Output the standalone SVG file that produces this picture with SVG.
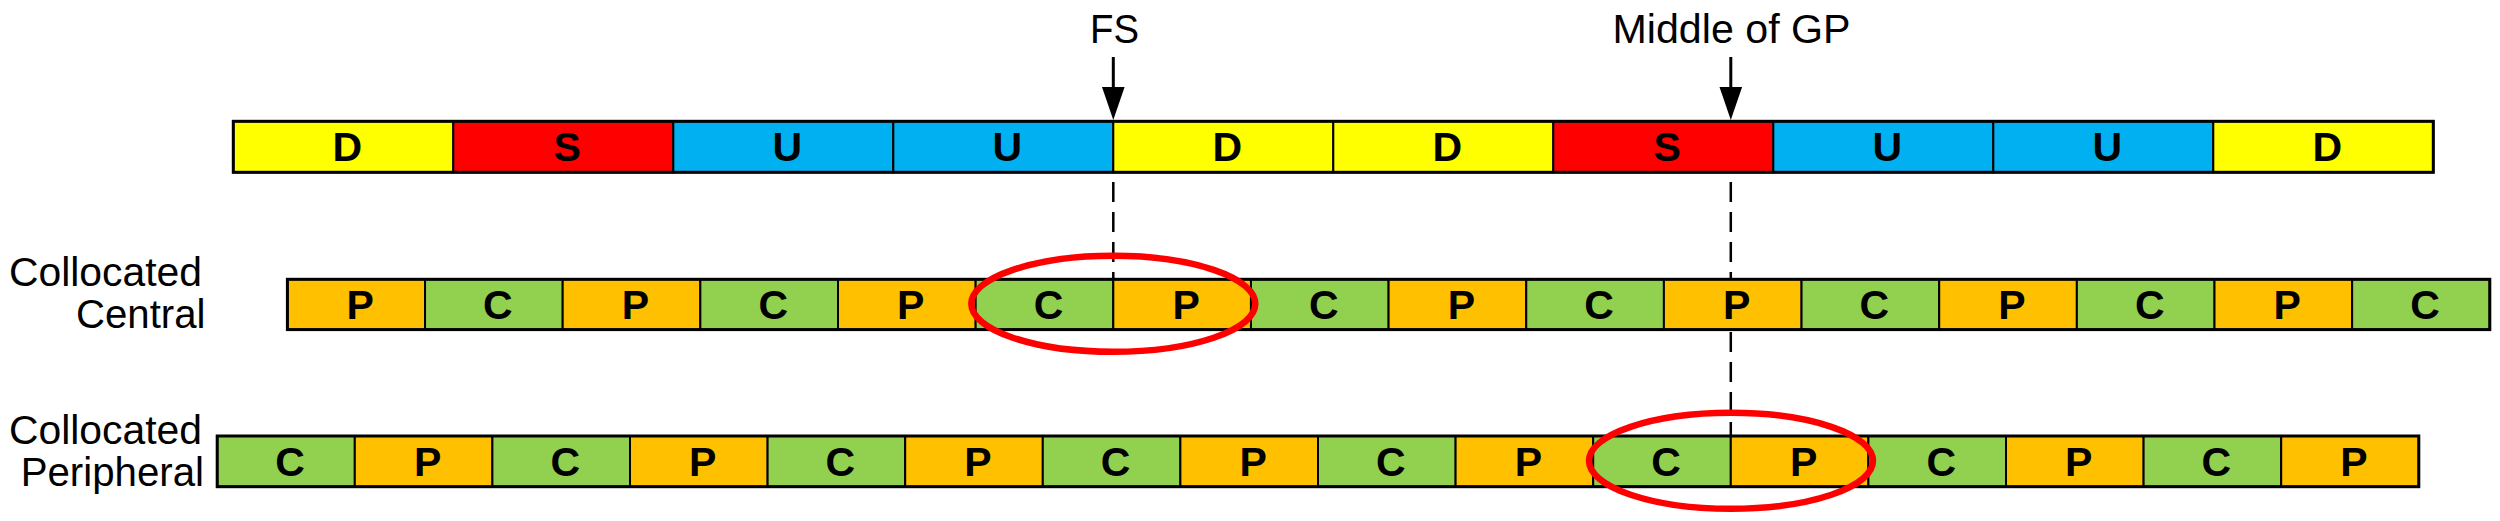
<svg xmlns="http://www.w3.org/2000/svg" width="2500" height="521" viewBox="0 0 2500 521">
<style>
.cell{stroke:#000;stroke-width:2}
.D{fill:#FFFF00}.S{fill:#FF0000}.U{fill:#00B0F0}.P{fill:#FFC000}.C{fill:#92D050}
.frame{fill:none;stroke:#000;stroke-width:3}
.lt{font-family:"Liberation Sans",Arial,sans-serif;font-weight:bold;font-size:41px;text-anchor:middle;fill:#000}
.lab{font-family:"Liberation Sans",Arial,sans-serif;font-size:40px;fill:#000}
.dash{stroke:#000;stroke-width:2.5;stroke-dasharray:20 10;fill:none}
.arr{stroke:#000;stroke-width:3;fill:none}
.ell{fill:none;stroke:#FF0000;stroke-width:6.5}
</style>
<rect width="2500" height="521" fill="#fff"/>
<g id="connectors">
<line class="dash" x1="1113.3" y1="182" x2="1113.3" y2="279"/>
<line class="dash" x1="1730.8" y1="182" x2="1730.8" y2="436"/>
<line class="arr" x1="1113.3" y1="57" x2="1113.3" y2="90"/>
<polygon points="1102,87 1124.6,87 1113.3,120" fill="#000"/>
<line class="arr" x1="1730.8" y1="57" x2="1730.8" y2="90"/>
<polygon points="1719.5,87 1742.1,87 1730.8,120" fill="#000"/>
</g>
<g id="label-fs"><text class="lab" x="1114.5" y="43.3" text-anchor="middle" font-size="41" textLength="49" lengthAdjust="spacingAndGlyphs">FS</text></g>
<g id="label-gp"><text class="lab" x="1731.5" y="43.3" text-anchor="middle" font-size="41" textLength="238" lengthAdjust="spacingAndGlyphs">Middle of GP</text></g>
<g id="label-central"><text class="lab" x="9" y="285.7" textLength="193" lengthAdjust="spacingAndGlyphs">Collocated</text><text class="lab" x="76" y="328.3" textLength="129.5" lengthAdjust="spacingAndGlyphs">Central</text></g>
<g id="label-peripheral"><text class="lab" x="9" y="444" textLength="193" lengthAdjust="spacingAndGlyphs">Collocated</text><text class="lab" x="20.7" y="485.5" textLength="183.3" lengthAdjust="spacingAndGlyphs">Peripheral</text></g>
<g id="row-frame">
<g id="t0"><rect class="cell D" x="233.3" y="121.3" width="220" height="51"/><text class="lt" x="347.3" y="161">D</text></g>
<g id="t1"><rect class="cell S" x="453.3" y="121.3" width="220" height="51"/><text class="lt" x="567.3" y="161">S</text></g>
<g id="t2"><rect class="cell U" x="673.3" y="121.3" width="220" height="51"/><text class="lt" x="787.3" y="161">U</text></g>
<g id="t3"><rect class="cell U" x="893.3" y="121.3" width="220" height="51"/><text class="lt" x="1007.3" y="161">U</text></g>
<g id="t4"><rect class="cell D" x="1113.3" y="121.3" width="220" height="51"/><text class="lt" x="1227.3" y="161">D</text></g>
<g id="t5"><rect class="cell D" x="1333.3" y="121.3" width="220" height="51"/><text class="lt" x="1447.3" y="161">D</text></g>
<g id="t6"><rect class="cell S" x="1553.3" y="121.3" width="220" height="51"/><text class="lt" x="1667.3" y="161">S</text></g>
<g id="t7"><rect class="cell U" x="1773.3" y="121.3" width="220" height="51"/><text class="lt" x="1887.3" y="161">U</text></g>
<g id="t8"><rect class="cell U" x="1993.3" y="121.3" width="220" height="51"/><text class="lt" x="2107.3" y="161">U</text></g>
<g id="t9"><rect class="cell D" x="2213.3" y="121.3" width="220" height="51"/><text class="lt" x="2327.3" y="161">D</text></g>
<rect class="frame" x="233.3" y="121.3" width="2200" height="51"/>
</g>
<g id="row-central">
<g id="c0"><rect class="cell P" x="287.4" y="279.3" width="137.65" height="50.3"/><text class="lt" x="360.2" y="318.5">P</text></g>
<g id="c1"><rect class="cell C" x="425.05" y="279.3" width="137.65" height="50.3"/><text class="lt" x="497.9" y="318.5">C</text></g>
<g id="c2"><rect class="cell P" x="562.7" y="279.3" width="137.65" height="50.3"/><text class="lt" x="635.5" y="318.5">P</text></g>
<g id="c3"><rect class="cell C" x="700.35" y="279.3" width="137.65" height="50.3"/><text class="lt" x="773.2" y="318.5">C</text></g>
<g id="c4"><rect class="cell P" x="838" y="279.3" width="137.65" height="50.3"/><text class="lt" x="910.8" y="318.5">P</text></g>
<g id="c5"><rect class="cell C" x="975.65" y="279.3" width="137.65" height="50.3"/><text class="lt" x="1048.5" y="318.5">C</text></g>
<g id="c6"><rect class="cell P" x="1113.3" y="279.3" width="137.65" height="50.3"/><text class="lt" x="1186.1" y="318.5">P</text></g>
<g id="c7"><rect class="cell C" x="1250.95" y="279.3" width="137.65" height="50.3"/><text class="lt" x="1323.8" y="318.5">C</text></g>
<g id="c8"><rect class="cell P" x="1388.6" y="279.3" width="137.65" height="50.3"/><text class="lt" x="1461.4" y="318.5">P</text></g>
<g id="c9"><rect class="cell C" x="1526.25" y="279.3" width="137.65" height="50.3"/><text class="lt" x="1599.1" y="318.5">C</text></g>
<g id="c10"><rect class="cell P" x="1663.9" y="279.3" width="137.65" height="50.3"/><text class="lt" x="1736.7" y="318.5">P</text></g>
<g id="c11"><rect class="cell C" x="1801.55" y="279.3" width="137.65" height="50.3"/><text class="lt" x="1874.4" y="318.5">C</text></g>
<g id="c12"><rect class="cell P" x="1939.2" y="279.3" width="137.65" height="50.3"/><text class="lt" x="2012" y="318.5">P</text></g>
<g id="c13"><rect class="cell C" x="2076.85" y="279.3" width="137.65" height="50.3"/><text class="lt" x="2149.7" y="318.5">C</text></g>
<g id="c14"><rect class="cell P" x="2214.5" y="279.3" width="137.65" height="50.3"/><text class="lt" x="2287.3" y="318.5">P</text></g>
<g id="c15"><rect class="cell C" x="2352.15" y="279.3" width="137.65" height="50.3"/><text class="lt" x="2425" y="318.5">C</text></g>
<rect class="frame" x="287.4" y="279.3" width="2202.4" height="50.3"/>
</g>
<g id="row-peripheral">
<g id="p0"><rect class="cell C" x="217.2" y="436" width="137.6" height="50.7"/><text class="lt" x="290" y="475.5">C</text></g>
<g id="p1"><rect class="cell P" x="354.8" y="436" width="137.6" height="50.7"/><text class="lt" x="427.6" y="475.5">P</text></g>
<g id="p2"><rect class="cell C" x="492.4" y="436" width="137.6" height="50.7"/><text class="lt" x="565.2" y="475.5">C</text></g>
<g id="p3"><rect class="cell P" x="630" y="436" width="137.6" height="50.7"/><text class="lt" x="702.8" y="475.5">P</text></g>
<g id="p4"><rect class="cell C" x="767.6" y="436" width="137.6" height="50.7"/><text class="lt" x="840.4" y="475.5">C</text></g>
<g id="p5"><rect class="cell P" x="905.2" y="436" width="137.6" height="50.7"/><text class="lt" x="978" y="475.5">P</text></g>
<g id="p6"><rect class="cell C" x="1042.8" y="436" width="137.6" height="50.7"/><text class="lt" x="1115.6" y="475.5">C</text></g>
<g id="p7"><rect class="cell P" x="1180.4" y="436" width="137.6" height="50.7"/><text class="lt" x="1253.2" y="475.5">P</text></g>
<g id="p8"><rect class="cell C" x="1318" y="436" width="137.6" height="50.7"/><text class="lt" x="1390.8" y="475.5">C</text></g>
<g id="p9"><rect class="cell P" x="1455.6" y="436" width="137.6" height="50.7"/><text class="lt" x="1528.4" y="475.5">P</text></g>
<g id="p10"><rect class="cell C" x="1593.2" y="436" width="137.6" height="50.7"/><text class="lt" x="1666" y="475.5">C</text></g>
<g id="p11"><rect class="cell P" x="1730.8" y="436" width="137.6" height="50.7"/><text class="lt" x="1803.6" y="475.5">P</text></g>
<g id="p12"><rect class="cell C" x="1868.4" y="436" width="137.6" height="50.7"/><text class="lt" x="1941.2" y="475.5">C</text></g>
<g id="p13"><rect class="cell P" x="2006" y="436" width="137.6" height="50.7"/><text class="lt" x="2078.8" y="475.5">P</text></g>
<g id="p14"><rect class="cell C" x="2143.6" y="436" width="137.6" height="50.7"/><text class="lt" x="2216.4" y="475.5">C</text></g>
<g id="p15"><rect class="cell P" x="2281.2" y="436" width="137.6" height="50.7"/><text class="lt" x="2354" y="475.5">P</text></g>
<rect class="frame" x="217.2" y="436" width="2201.6" height="50.7"/>
</g>
<g id="highlight-fs"><ellipse class="ell" cx="1113.3" cy="303.8" rx="142" ry="48"/></g>
<g id="highlight-gp"><ellipse class="ell" cx="1731" cy="460.8" rx="142" ry="48"/></g>
</svg>
